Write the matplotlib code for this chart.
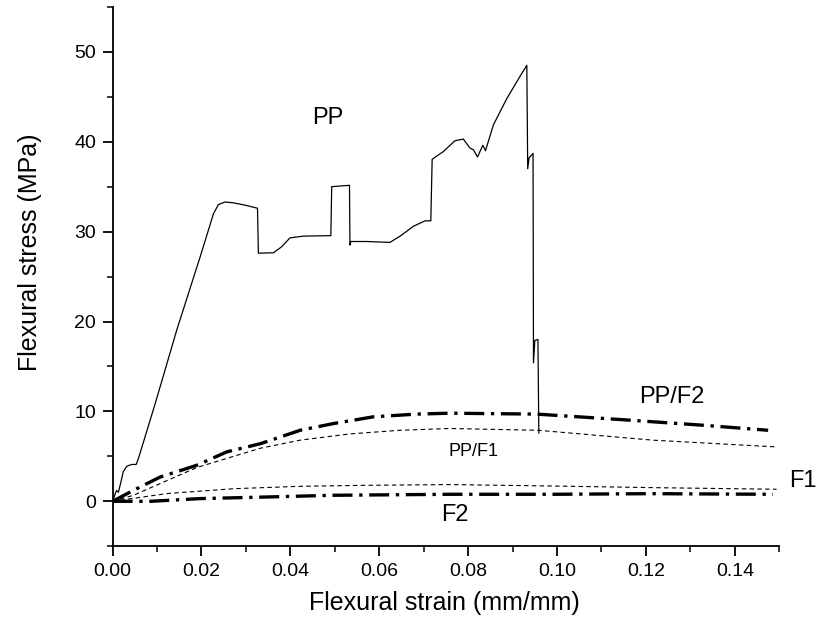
import matplotlib
matplotlib.use("Agg")
import matplotlib.pyplot as plt
from matplotlib.ticker import MultipleLocator

plt.rcParams['font.family'] = ['Liberation Sans', 'DejaVu Sans']

# PP (neat polymer)
pp_x = [0.0, 0.0006, 0.0009, 0.0013, 0.0018, 0.0024, 0.0032, 0.0043, 0.0053, 0.0058,
        0.0096, 0.0144, 0.0197, 0.0227, 0.0238, 0.0253, 0.0272, 0.0302, 0.0326,
        0.0328, 0.0362, 0.0380, 0.0399, 0.0429, 0.0491, 0.0493, 0.0533, 0.0534,
        0.0536, 0.0572, 0.0624, 0.0647, 0.0677, 0.0703, 0.0716, 0.0719, 0.0744,
        0.0770, 0.0789, 0.0804, 0.0812, 0.0821, 0.0833, 0.0839, 0.0857, 0.0887,
        0.0917, 0.0932, 0.0934, 0.0937, 0.0946, 0.0947, 0.0950, 0.0957, 0.0959]
pp_y = [0.0, 0.86, 1.2, 1.0, 2.0, 3.3, 3.9, 4.1, 4.1, 4.75,
        10.9, 19.0, 27.2, 32.0, 33.0, 33.3, 33.2, 32.9, 32.6,
        27.6, 27.65, 28.3, 29.3, 29.5, 29.55, 35.0, 35.15, 28.5,
        28.9, 28.9, 28.8, 29.5, 30.6, 31.2, 31.2, 38.05, 38.9,
        40.1, 40.3, 39.3, 39.1, 38.3, 39.6, 39.0, 41.9, 44.8,
        47.3, 48.5, 37.0, 38.2, 38.7, 15.4, 17.9, 18.0, 7.6]

ppf2_x = [0.0, 0.0047, 0.0107, 0.0189, 0.0257, 0.0332, 0.0422, 0.0497, 0.0587, 0.0684,
          0.0759, 0.0954, 0.1141, 0.1329, 0.1475]
ppf2_y = [0.0, 1.22, 2.7, 4.0, 5.5, 6.4, 7.9, 8.65, 9.4, 9.7, 9.8, 9.7, 9.1, 8.46, 7.9]

ppf1_x = [0.0, 0.0047, 0.0189, 0.0272, 0.0332, 0.0422, 0.0534, 0.0647, 0.0759, 0.0958,
          0.1216, 0.1494]
ppf1_y = [0.0, 0.67, 3.75, 5.0, 5.9, 6.8, 7.5, 7.9, 8.1, 7.9, 6.8, 6.05]

f1_x = [0.0, 0.0122, 0.0272, 0.0422, 0.0572, 0.0759, 0.0991, 0.1216, 0.1494]
f1_y = [0.0, 0.86, 1.4, 1.67, 1.78, 1.86, 1.7, 1.52, 1.34]

f2_x = [0.0, 0.0085, 0.0197, 0.0347, 0.0497, 0.0759, 0.0991, 0.1216, 0.1486]
f2_y = [0.0, 0.0, 0.3, 0.48, 0.67, 0.78, 0.78, 0.85, 0.78]

fig = plt.figure(figsize=(8.22, 6.25), dpi=100)
ax = fig.add_axes([0.137, 0.126, 0.811, 0.863])

ax.plot(pp_x, pp_y, color='black', lw=0.9)
ax.plot(ppf2_x, ppf2_y, color='black', lw=2.4, linestyle=(0, (6, 2, 1, 2)))
ax.plot(ppf1_x, ppf1_y, color='black', lw=0.8, linestyle=(0, (4, 3)))
ax.plot(f1_x, f1_y, color='black', lw=0.8, linestyle=(0, (4, 3)))
ax.plot(f2_x, f2_y, color='black', lw=2.4, linestyle=(0, (6, 2, 1, 2)))

ax.text(0.0483, 42.6, 'PP', fontsize=17, ha='center', va='center')
ax.text(0.1258, 11.6, 'PP/F2', fontsize=17, ha='center', va='center')
ax.text(0.0812, 5.5, 'PP/F1', fontsize=13, ha='center', va='center')
ax.text(0.1554, 2.3, 'F1', fontsize=17, ha='center', va='center', clip_on=False)
ax.text(0.0770, -1.56, 'F2', fontsize=17, ha='center', va='center')

ax.set_xlim(0, 0.15)
ax.set_ylim(-5, 55)
ax.xaxis.set_minor_locator(MultipleLocator(0.01))
ax.yaxis.set_major_locator(MultipleLocator(10))
ax.yaxis.set_minor_locator(MultipleLocator(5))
ax.set_xticks([0, 0.02, 0.04, 0.06, 0.08, 0.10, 0.12, 0.14])
ax.set_xticklabels(['0.00', '0.02', '0.04', '0.06', '0.08', '0.10', '0.12', '0.14'])

for s in ['top', 'right']:
    ax.spines[s].set_visible(False)
for s in ['left', 'bottom']:
    ax.spines[s].set_linewidth(1.3)
ax.tick_params(which='major', direction='out', length=7, width=1.3, labelsize=14, pad=5)
ax.tick_params(which='minor', direction='out', length=4, width=1.1)

ax.set_xlabel('Flexural strain (mm/mm)', fontsize=18)
ax.set_ylabel('Flexural stress (MPa)', fontsize=18)
ax.xaxis.set_label_coords(0.497, -0.083)
ax.yaxis.set_label_coords(-0.106, 0.545)

fig.savefig('out.png', dpi=100)
